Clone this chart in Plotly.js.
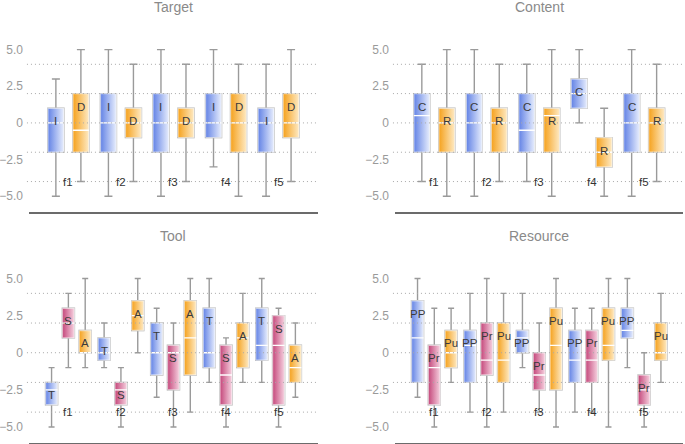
<!DOCTYPE html>
<html>
<head>
<meta charset="utf-8">
<script src="https://cdn.plot.ly/plotly-3.0.1.min.js"></script>
<style>
  html, body { margin: 0; padding: 0; background: #ffffff; }
  #chart { width: 685px; height: 444px; }
</style>
</head>
<body>
<div id="chart"></div>
<script>
// ---------------- data ----------------
const categories = ['f1', 'f2', 'f3', 'f4', 'f5'];
const yTickVals = [-5, -2.5, 0, 2.5, 5];
const yTickText = ['\u22125.0', '\u22122.5', '0', '2.5', '5.0'];
const gridValues = [-4, -2, 0, 2, 4];

// each entry per category: [lower whisker, Q1, median, Q3, upper whisker]
// Target
const targetI = [[-5, -2, 0, 1, 3], [-5, -2, 0, 2, 5], [-5, -2, 0, 2, 5], [-3, -1, 0, 2, 5], [-5, -2, 0, 1, 4]];
const targetD = [[-4, -2, -0.5, 2, 5], [-4, -1, 0, 1, 4], [-4, -1, 0, 1, 4], [-5, -2, 0, 2, 4], [-4, -1, 0, 2, 5]];
// Content
const contentC = [[-4, -2, 0.5, 2, 4], [-5, -2, 0, 2, 5], [-4, -2, -0.5, 2, 4], [0, 1, 2, 3, 5], [-5, -2, 0, 2, 5]];
const contentR = [[-5, -2, 0, 1, 5], [-4, -2, 0, 1, 4], [-5, -2, 0.5, 1, 5], [-5, -3, -2, -1, 1], [-4, -2, 0, 1, 4]];
// Tool
const toolT = [[-5, -3.5, -2.5, -2, -1], [-1, -0.5, 0, 1, 2], [-3, -1.5, 0, 2, 3], [-2, -1, 0, 3, 5], [-2, -0.5, 0.5, 3, 5]];
const toolS = [[-1, 1, 2, 3, 4], [-5, -3.5, -2.5, -2, -1], [-5, -2.5, 0, 0.5, 2], [-5, -3.5, -1.5, 0.5, 1], [-5, -3.5, 0.5, 2.5, 3]];
const toolA = [[-1, 0, 0, 1.5, 5], [0, 1.5, 2.5, 3.5, 5], [-4, -1.5, 1, 3.5, 5], [-2, -1, 1, 2, 4], [-3, -2, -1, 0.5, 2]];
// Resource
const resourcePP = [[-3, -2, 1, 3.5, 5], [-4, -2, 0.5, 1.5, 4], [-1, 0, 1, 1.5, 4], [-4, -2, -0.5, 1.5, 3], [-1, 1, 1.5, 3, 5]];
const resourcePr = [[-5, -3.5, -1, 0.5, 3], [-5, -1.5, -0.5, 2, 5], [-4, -2.5, -1.5, 0, 2], [-4, -2, -0.5, 1.5, 3], [-5, -3.5, -2.5, -1.5, 0]];
const resourcePu = [[-2, -1, 0, 1.5, 3], [-4, -2, -0.5, 2, 4], [-5, -2.5, 0.5, 3, 5], [-5, -0.5, 0.5, 3, 5], [-2, -0.5, 0, 2, 4]];

const panelTitles = ['Target', 'Content', 'Tool', 'Resource'];
const panelSeries = [
  [['I', targetI, 'blue'], ['D', targetD, 'orange']],
  [['C', contentC, 'blue'], ['R', contentR, 'orange']],
  [['T', toolT, 'blue'], ['S', toolS, 'pink'], ['A', toolA, 'orange']],
  [['PP', resourcePP, 'blue'], ['Pr', resourcePr, 'pink'], ['Pu', resourcePu, 'orange']]
];

// ---------------- styles / geometry ----------------
const gradients = {
  blue:   ['#6282e5', '#e8eefd'],
  orange: ['#f5a11c', '#feeac4'],
  pink:   ['#c4467a', '#f6d2e0']
};
const geom = { 2: { step: 0.476, width: 0.305 }, 3: { step: 0.32, width: 0.229 } };
const xDomains = [[0.0423, 0.4642], [0.5766, 0.9978], [0.0423, 0.4642], [0.5766, 0.9978]];
const yDomains = [[0.5218, 0.9014], [0.5218, 0.9014], [0.0016, 0.3861], [0.0016, 0.3861]];
const titleY = [0.984, 0.984, 0.4685, 0.4685];
const FONT = 'Liberation Sans, Arial, sans-serif';

const traces = [];
const annotations = [];
const shapes = [];
const layout = {
  width: 685, height: 444,
  margin: { l: 0, r: 0, t: 0, b: 0 },
  paper_bgcolor: '#ffffff', plot_bgcolor: '#ffffff',
  showlegend: false,
  font: { family: FONT },
  hovermode: false
};

panelSeries.forEach((series, p) => {
  const n = p + 1;
  const sfx = n === 1 ? '' : String(n);
  const xa = 'x' + sfx, ya = 'y' + sfx;
  const N = series.length;
  const g = geom[N];
  const hw = g.width / 2;

  layout['xaxis' + sfx] = {
    domain: xDomains[p], anchor: ya, type: 'linear', range: [-0.75, 4.75],
    showticklabels: false, showgrid: false, zeroline: false, ticks: '',
    showline: true, linecolor: '#6b6b6b', linewidth: 1.3, fixedrange: true
  };
  layout['yaxis' + sfx] = {
    domain: yDomains[p], anchor: xa, range: [-6.1, 5.4],
    tickmode: 'array', tickvals: yTickVals, ticktext: yTickText,
    tickfont: { size: 12, color: '#9a9a9a', family: FONT },
    ticks: '', ticklabelstandoff: 5,
    showgrid: false, zeroline: false, showline: false, fixedrange: true
  };

  annotations.push({
    xref: 'paper', yref: 'paper',
    x: (xDomains[p][0] + xDomains[p][1]) / 2, y: titleY[p],
    text: panelTitles[p], showarrow: false, xanchor: 'center', yanchor: 'middle',
    font: { size: 14, color: '#8a8a8a', family: FONT }
  });

  gridValues.forEach(v => {
    shapes.push({
      type: 'line', xref: xa + ' domain', yref: ya, x0: -0.007, x1: 1, y0: v, y1: v,
      line: { color: '#a8a8a8', width: 1, dash: '1px,3px' }, layer: 'above'
    });
  });

  categories.forEach((c, i) => {
    annotations.push({
      xref: xa, yref: ya, x: i, y: -4, text: c, showarrow: false,
      xanchor: 'center', yanchor: 'middle',
      font: { size: 11.5, color: '#333333', family: FONT }
    });
  });

  series.forEach(([label, stats, colorKey], k) => {
    const off = (k - (N - 1) / 2) * g.step;
    const xs = categories.map((c, i) => i + off);
    // whiskers (box trace; its box is covered by the gradient fill below)
    traces.push({
      type: 'box', xaxis: xa, yaxis: ya, x: xs,
      lowerfence: stats.map(s => s[0]), q1: stats.map(s => s[1]),
      median: stats.map(s => s[2]), q3: stats.map(s => s[3]),
      upperfence: stats.map(s => s[4]),
      width: g.width, whiskerwidth: 0.5, boxpoints: false,
      fillcolor: 'rgba(0,0,0,0)', line: { color: '#9a9a9a', width: 1.4 },
      hoverinfo: 'skip'
    });
    // gradient box bodies
    stats.forEach((s, i) => {
      const x0 = xs[i] - hw, x1 = xs[i] + hw;
      traces.push({
        type: 'scatter', mode: 'lines', xaxis: xa, yaxis: ya,
        x: [x0, x1, x1, x0, x0], y: [s[1], s[1], s[3], s[3], s[1]],
        fill: 'toself',
        fillgradient: { type: 'horizontal', colorscale: [[0, gradients[colorKey][0]], [1, gradients[colorKey][1]]] },
        line: { color: 'rgba(255,255,255,0.55)', width: 1.4 },
        hoverinfo: 'skip'
      });
      annotations.push({
        xref: xa, yref: ya, x: xs[i], y: s[3], yshift: -13, text: label,
        showarrow: false, xanchor: 'center', yanchor: 'middle',
        font: { size: 11.5, color: '#3a3a3a', family: FONT }
      });
    });
    // median lines
    const mx = [], my = [];
    stats.forEach((s, i) => { mx.push(xs[i] - hw, xs[i] + hw, null); my.push(s[2], s[2], null); });
    traces.push({
      type: 'scatter', mode: 'lines', xaxis: xa, yaxis: ya, x: mx, y: my,
      line: { color: '#ffffff', width: 1.3 }, hoverinfo: 'skip', connectgaps: false
    });
  });
});

layout.annotations = annotations;
layout.shapes = shapes;

Plotly.newPlot('chart', traces, layout, { staticPlot: true, displayModeBar: false });
</script>
</body>
</html>
